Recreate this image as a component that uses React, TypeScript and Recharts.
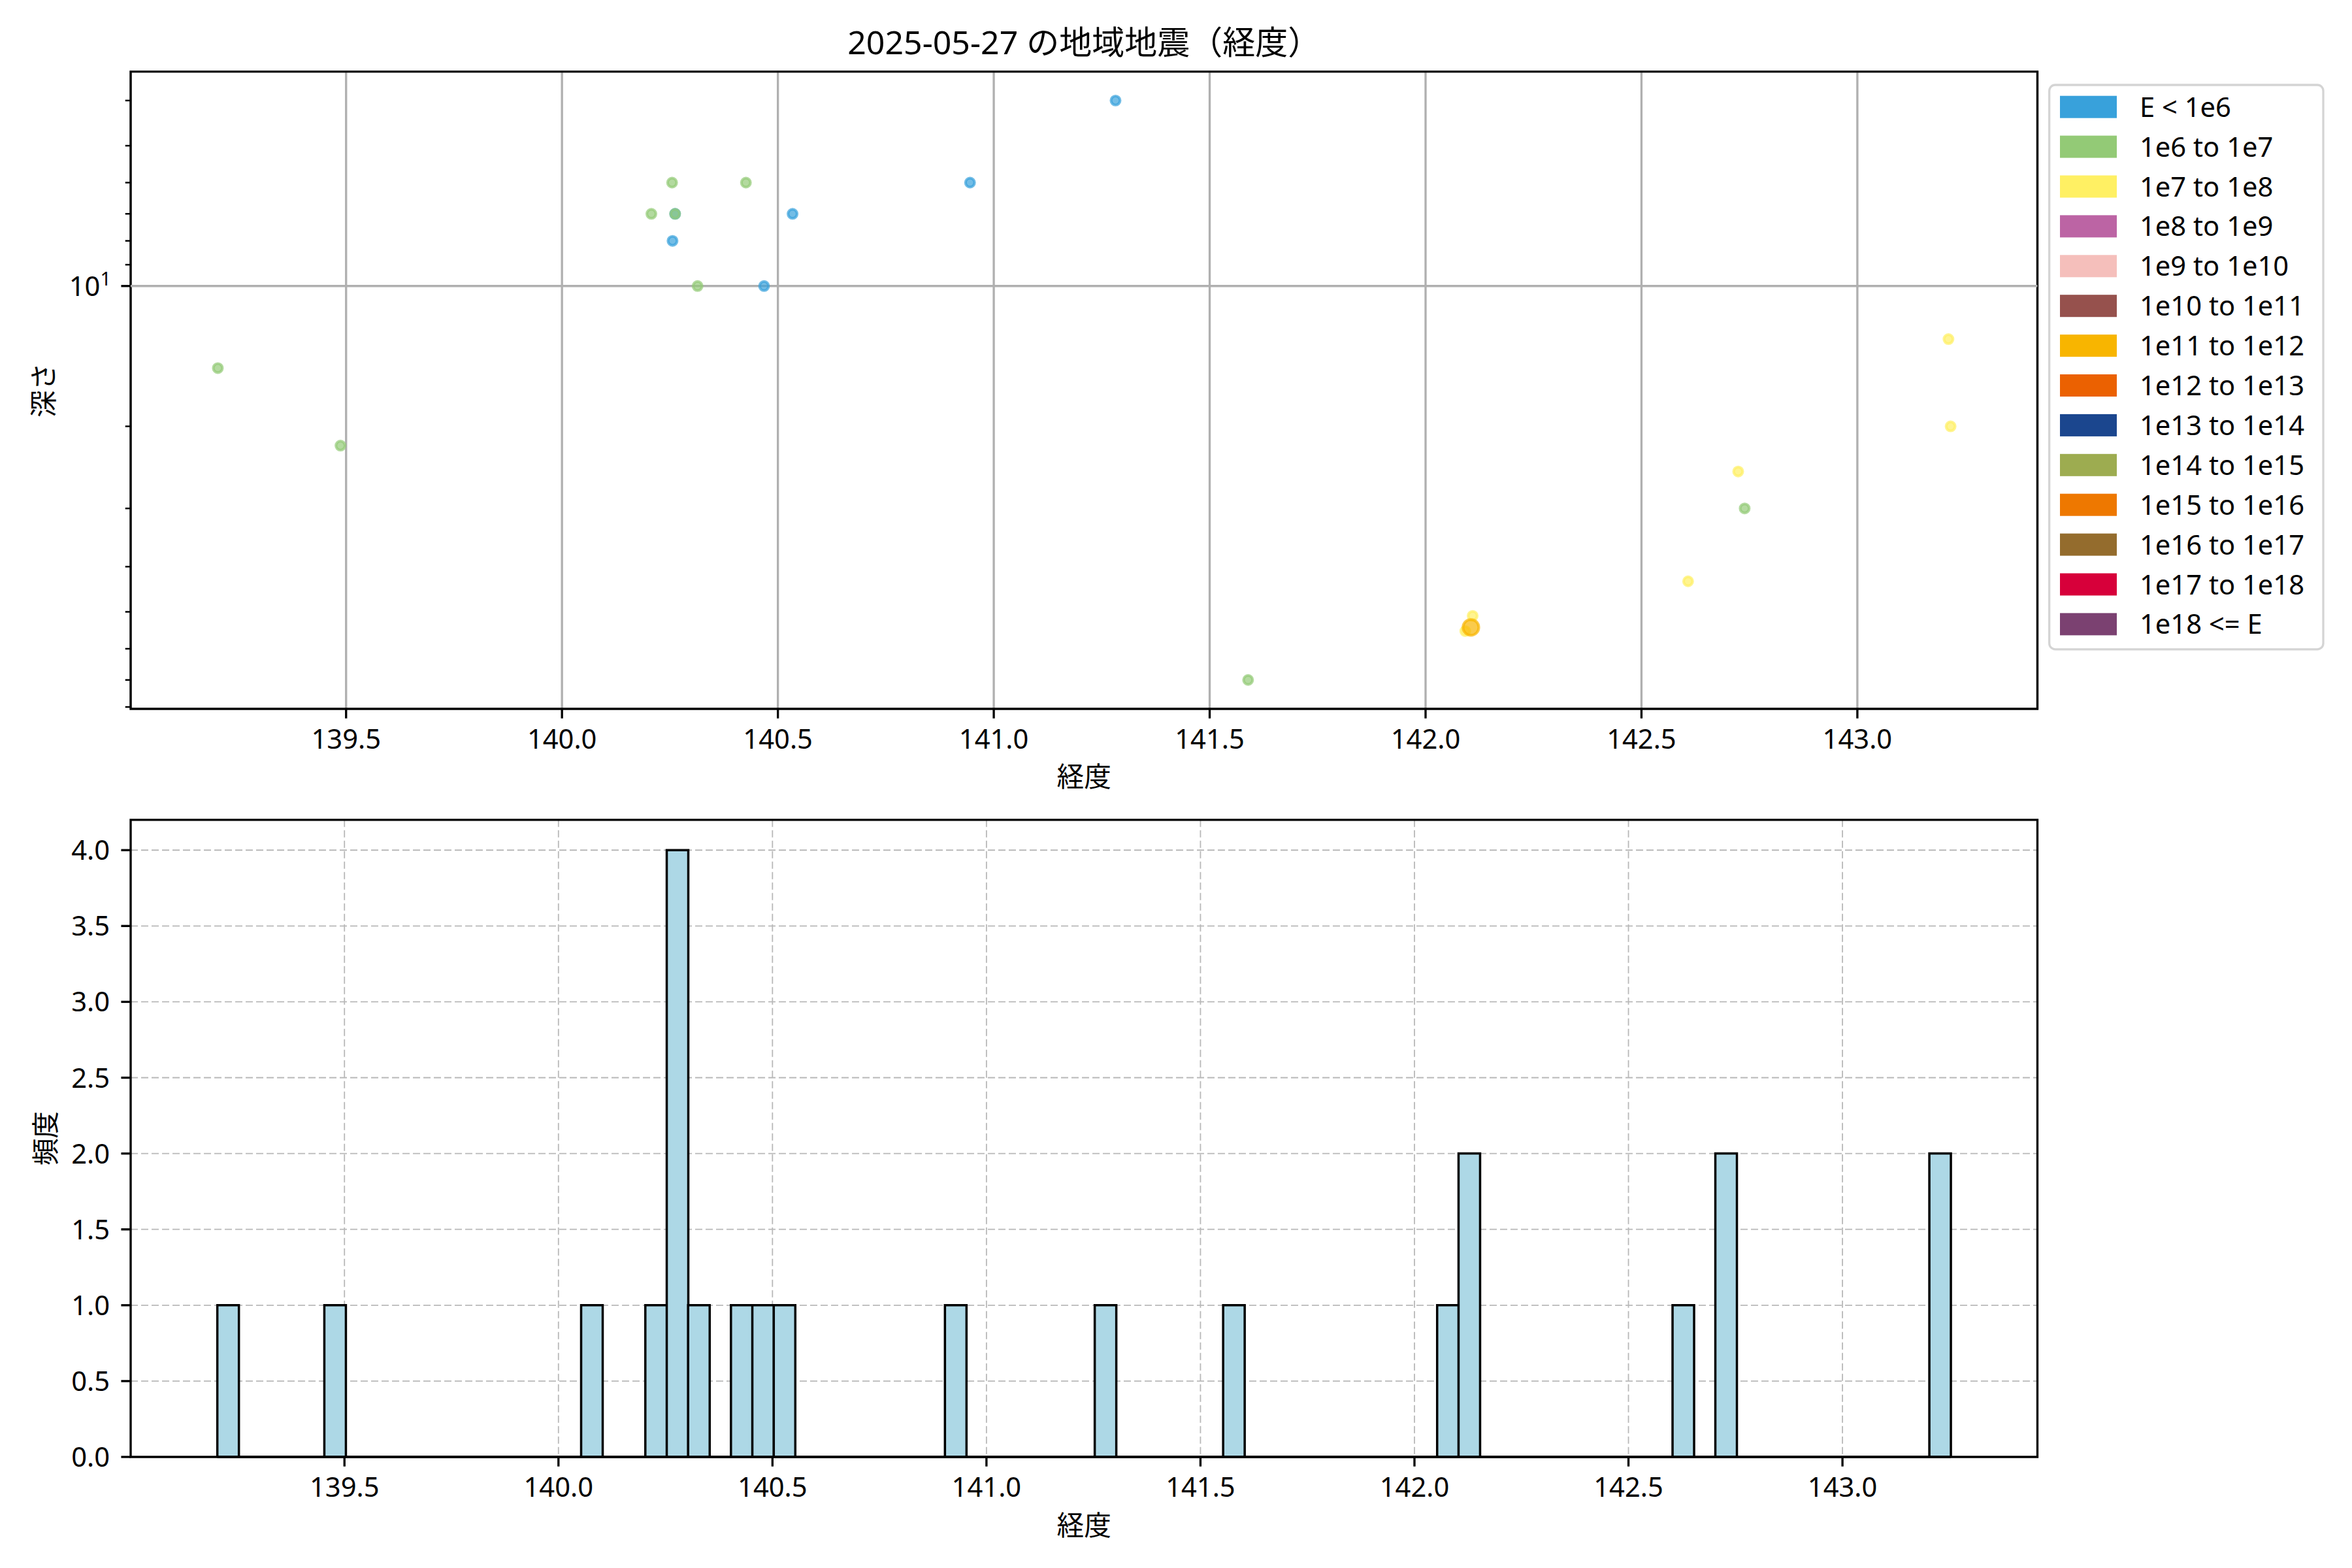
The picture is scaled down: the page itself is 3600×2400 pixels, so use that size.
import React from 'react';
import {
  ScatterChart,
  Scatter,
  BarChart,
  Bar,
  XAxis,
  YAxis,
  CartesianGrid,
  ReferenceLine,
  ReferenceArea,
  Label,
} from 'recharts';

const FONT = '"Noto Sans", "Noto Sans CJK JP", sans-serif';

// ---------- data ----------
const chartTitle = '2025-05-27 の地域地震（経度）';
const xAxisLabel = '経度';
const depthAxisLabel = '深さ';
const countAxisLabel = '頻度';

const energyLabels = [
  'E < 1e6',
  '1e6 to 1e7',
  '1e7 to 1e8',
  '1e8 to 1e9',
  '1e9 to 1e10',
  '1e10 to 1e11',
  '1e11 to 1e12',
  '1e12 to 1e13',
  '1e13 to 1e14',
  '1e14 to 1e15',
  '1e15 to 1e16',
  '1e16 to 1e17',
  '1e17 to 1e18',
  '1e18 <= E',
];
const energyColors = [
  '#38A1DB',
  '#93CA76',
  '#FFF063',
  '#BC64A4',
  '#F5BFBB',
  '#96514D',
  '#F8B500',
  '#EB6101',
  '#1B468E',
  '#9DAC50',
  '#EE7800',
  '#946C2D',
  '#D7003A',
  '#7B4171',
];

// one entry per quake
const longitudes = [
  139.203, 139.487, 140.255, 140.426, 140.207, 140.262, 140.262, 140.534,
  140.256, 140.314, 140.468, 140.945, 141.282, 141.589, 142.109, 142.105,
  142.092, 143.211, 143.216, 142.724, 142.739, 142.608, 140.075,
];
const depths = [
  15, 22, 6, 6, 7, 7, 7, 7, 8, 10, 10, 6, 4, 70, 51, 54, 55, 13, 20, 25, 30, 43, 0,
];
const energyClassOfQuake = [
  1, 1, 1, 1, 1, 0, 1, 0, 0, 1, 0, 0, 0, 1, 2, 6, 2, 2, 2, 2, 1, 2, 1,
];

const lonTicks = [139.5, 140.0, 140.5, 141.0, 141.5, 142.0, 142.5, 143.0];
const depthTicks = [4, 5, 6, 7, 8, 9, 10, 20, 30, 40, 50, 60, 70, 80];
const depthMajorTicks = [10];
const countTicks = [0, 0.5, 1, 1.5, 2, 2.5, 3, 3.5, 4];

const scatterLonDomain = [139.0011, 143.417];
const depthDomain = [3.4674, 80.75];
const histLonDomain = [139.0005, 143.4555];
const countDomain = [0, 4.2];

const histBinStart = 139.203;
const histBinWidth = 0.05;
const histBinCount = 81;

// ---------- derived tables ----------
const quakes = longitudes.map((lon, i) => ({
  lon,
  depth: depths[i],
  cls: energyClassOfQuake[i],
}));

const seriesByClass = energyLabels.map((label, c) => ({
  label,
  color: energyColors[c],
  data: quakes.filter((q) => q.cls === c && q.depth > 0),
}));

const histData = Array.from({ length: histBinCount }, (_, i) => ({
  center: histBinStart + (i + 0.5) * histBinWidth,
  count: 0,
}));
longitudes.forEach((lon) => {
  const idx = Math.floor((lon - histBinStart) / histBinWidth + 1e-9);
  if (idx >= 0 && idx < histBinCount) histData[idx].count += 1;
});
const histEnd = histBinStart + histBinCount * histBinWidth;

// ---------- styles ----------
const FS = 41.7;
const LW = 3.33;
const PLOT_LEFT = 200;
const PLOT_RIGHT_MARGIN = 3600 - 3118.5;

const markerRadius = (cls: number) => (cls >= 6 ? 12.1 : 6.9);

const makeMarker = (color: string, cls: number) => (props: any) => {
  const { cx, cy } = props;
  if (cx == null || cy == null) return <g />;
  return (
    <circle
      cx={cx}
      cy={cy}
      r={markerRadius(cls)}
      fill={color}
      fillOpacity={0.7}
      stroke={color}
      strokeOpacity={0.7}
      strokeWidth={4.17}
    />
  );
};

const BottomTick = (props: any) => {
  const { x, y, payload } = props;
  return (
    <text
      x={x}
      y={y + 46}
      textAnchor="middle"
      fontSize={FS}
      fontFamily={FONT}
      fill="#000"
    >
      {Number(payload.value).toFixed(1)}
    </text>
  );
};

const LogDepthTick = (props: any) => {
  const { x, y, payload } = props;
  const major = depthMajorTicks.includes(payload.value);
  const len = major ? 14.6 : 8.3;
  return (
    <g>
      <line
        x1={x - len}
        x2={x}
        y1={y}
        y2={y}
        stroke="#000"
        strokeWidth={major ? LW : 2.5}
      />
      {major && (
        <text
          x={x - 30}
          y={y + 15.4}
          textAnchor="end"
          fontSize={FS}
          fontFamily={FONT}
          fill="#000"
        >
          <tspan>10</tspan>
          <tspan dy={-15.7} fontSize={29}>
            1
          </tspan>
        </text>
      )}
    </g>
  );
};

const CountTick = (props: any) => {
  const { x, y, payload } = props;
  return (
    <g>
      <line x1={x - 14.6} x2={x} y1={y} y2={y} stroke="#000" strokeWidth={LW} />
      <text
        x={x - 32}
        y={y + 15}
        textAnchor="end"
        fontSize={FS}
        fontFamily={FONT}
        fill="#000"
      >
        {Number(payload.value).toFixed(1)}
      </text>
    </g>
  );
};

const xLabelContent = (text: string, dyCenter: number) => (props: any) => {
  const vb = props.viewBox || {};
  const cx = vb.x + vb.width / 2;
  const cy = vb.y + dyCenter;
  return (
    <text
      x={cx}
      y={cy}
      textAnchor="middle"
      dominantBaseline="central"
      fontSize={FS}
      fontFamily={FONT}
      fill="#000"
    >
      {text}
    </text>
  );
};

const yLabelContent = (text: string, cxAbs: number) => (props: any) => {
  const vb = props.viewBox || {};
  const cx = vb.x + cxAbs;
  const cy = vb.y + vb.height / 2;
  return (
    <text
      x={cx}
      y={cy}
      transform={`rotate(-90 ${cx} ${cy})`}
      textAnchor="middle"
      dominantBaseline="central"
      fontSize={FS}
      fontFamily={FONT}
      fill="#000"
    >
      {text}
    </text>
  );
};

// legend geometry
const LEG = { x: 3136.7, y: 130, w: 419.3, h: 863.8, firstRow: 163.7, rowStep: 60.9 };

export default function App() {
  return (
    <div
      style={{
        position: 'absolute',
        left: 0,
        top: 0,
        width: 3600,
        height: 2400,
        background: '#fff',
        fontFamily: FONT,
      }}
    >
      {/* Top: scatter of depth vs longitude */}
      <div style={{ position: 'absolute', left: 0, top: 0 }}>
        <ScatterChart
          width={3600}
          height={1240}
          margin={{ top: 109.6, right: PLOT_RIGHT_MARGIN, bottom: 0, left: 0 }}
        >
          <CartesianGrid
            horizontal={false}
            vertical={true}
            stroke="#b0b0b0"
            strokeWidth={LW}
          />
          <XAxis
            type="number"
            dataKey="lon"
            domain={scatterLonDomain}
            allowDataOverflow
            ticks={lonTicks}
            interval={0}
            height={155}
            axisLine={false}
            tickLine={{ stroke: '#000', strokeWidth: LW }}
            tickSize={14.6}
            tickMargin={0}
            tick={<BottomTick />}
          >
            <Label content={xLabelContent(xAxisLabel, 102)} />
          </XAxis>
          <YAxis
            type="number"
            dataKey="depth"
            scale="log"
            domain={depthDomain}
            allowDataOverflow
            reversed
            ticks={depthTicks}
            interval={0}
            width={PLOT_LEFT}
            axisLine={false}
            tickLine={false}
            tickSize={0}
            tickMargin={0}
            tick={<LogDepthTick />}
          >
            <Label content={yLabelContent(depthAxisLabel, 65.7)} />
          </YAxis>
          <ReferenceLine y={10} stroke="#b0b0b0" strokeWidth={LW} />
          {seriesByClass.map((s, c) => (
            <Scatter
              key={s.label}
              name={s.label}
              data={s.data}
              fill={s.color}
              shape={makeMarker(s.color, c)}
              isAnimationActive={false}
            />
          ))}
          <ReferenceArea
            x1={scatterLonDomain[0]}
            x2={scatterLonDomain[1]}
            y1={depthDomain[0]}
            y2={depthDomain[1]}
            fill="none"
            fillOpacity={0}
            stroke="#000"
            strokeWidth={LW}
            ifOverflow="visible"
          />
        </ScatterChart>
      </div>

      {/* Bottom: histogram of longitude */}
      <div style={{ position: 'absolute', left: 0, top: 1240 }}>
        <BarChart
          width={3600}
          height={1160}
          data={histData}
          margin={{ top: 14.8, right: PLOT_RIGHT_MARGIN, bottom: 0, left: 0 }}
          barCategoryGap={0}
          barGap={0}
        >
          <CartesianGrid
            stroke="#b8b8b8"
            strokeWidth={1.8}
            strokeDasharray="11 5"
          />
          <XAxis
            type="number"
            dataKey="center"
            domain={histLonDomain}
            allowDataOverflow
            ticks={lonTicks}
            interval={0}
            height={170}
            axisLine={false}
            tickLine={{ stroke: '#000', strokeWidth: LW }}
            tickSize={14.6}
            tickMargin={0}
            tick={<BottomTick />}
          >
            <Label content={xLabelContent(xAxisLabel, 103)} />
          </XAxis>
          <YAxis
            type="number"
            domain={countDomain}
            allowDataOverflow
            ticks={countTicks}
            interval={0}
            width={PLOT_LEFT}
            axisLine={false}
            tickLine={false}
            tickSize={0}
            tickMargin={0}
            tick={<CountTick />}
          >
            <Label content={yLabelContent(countAxisLabel, 68.3)} />
          </YAxis>
          <Bar
            dataKey="count"
            fill="#ADD8E6"
            stroke="#000"
            strokeWidth={3.5}
            isAnimationActive={false}
          />
          <ReferenceLine
            segment={[
              { x: histBinStart, y: 0 },
              { x: histEnd, y: 0 },
            ]}
            stroke="#000"
            strokeWidth={4}
          />
          <ReferenceArea
            x1={histLonDomain[0]}
            x2={histLonDomain[1]}
            y1={countDomain[0]}
            y2={countDomain[1]}
            fill="none"
            fillOpacity={0}
            stroke="#000"
            strokeWidth={LW}
            ifOverflow="visible"
          />
        </BarChart>
      </div>

      {/* Title and legend */}
      <svg
        width={3600}
        height={2400}
        style={{ position: 'absolute', left: 0, top: 0, pointerEvents: 'none' }}
      >
        <text
          x={(PLOT_LEFT + 3118.5) / 2}
          y={83}
          textAnchor="middle"
          fontSize={50}
          fontFamily={FONT}
          fill="#000"
        >
          {chartTitle}
        </text>
        <rect
          x={LEG.x}
          y={LEG.y}
          width={LEG.w}
          height={LEG.h}
          rx={9}
          ry={9}
          fill="#fff"
          fillOpacity={0.8}
          stroke="#d4d4d4"
          strokeWidth={3.3}
        />
        {seriesByClass.map((s, i) => {
          const cy = LEG.firstRow + i * LEG.rowStep;
          return (
            <g key={s.label}>
              <rect x={3153} y={cy - 17} width={87} height={34} fill={s.color} />
              <text
                x={3275}
                y={cy + 15}
                fontSize={FS}
                fontFamily={FONT}
                fill="#000"
              >
                {s.label}
              </text>
            </g>
          );
        })}
      </svg>
    </div>
  );
}
